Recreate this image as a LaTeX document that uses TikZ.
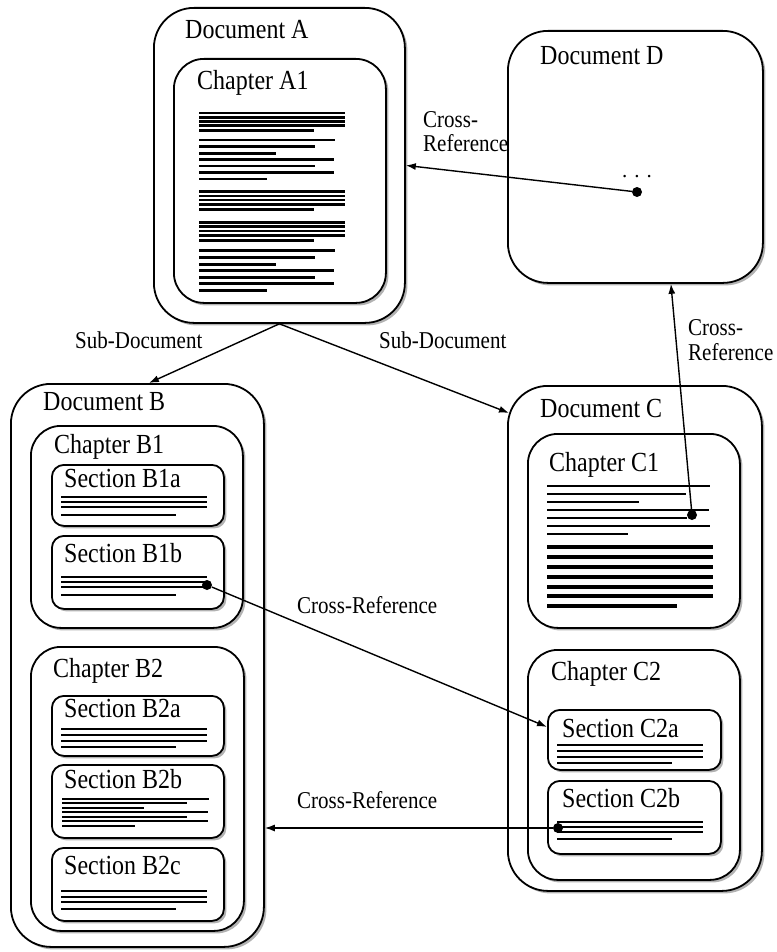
\documentclass[tikz,border=0pt]{standalone}
\usepackage{fontspec}
\usepackage{graphicx}
\setmainfont{Liberation Serif}
\usetikzlibrary{arrows.meta,shadows}

% slightly tall lettering used for every text in the figure
\newcommand{\tallt}[1]{\scalebox{1}[1.15]{#1}}

\begin{document}
\begin{tikzpicture}[x=1pt,y=-1pt,
  frame/.style={draw, line width=1.8pt, fill=white, inner sep=0pt, anchor=north west,
    drop shadow={shadow xshift=2.5pt, shadow yshift=-2.5pt, opacity=0.3, fill=black}},
  docbox/.style={frame, rounded corners=40pt},
  chapbox/.style={frame, rounded corners=30pt},
  secbox/.style={frame, rounded corners=12pt},
  title/.style={anchor=base west, inner sep=0pt, font=\fontsize{24}{28}\selectfont},
  lbl/.style={anchor=base west, inner sep=0pt, font=\fontsize{21}{25}\selectfont},
  dot/.style={circle, fill=black, inner sep=0pt, minimum size=10pt},
  conn/.style={line width=1.4pt, -{Latex[length=10pt,width=7pt]}},
  tl/.style={line width=2.8pt},
  tls/.style={line width=2.6pt},
  tlt/.style={line width=1.6pt},
  tlb/.style={line width=4.8pt}]
\useasboundingbox (0,0) rectangle (776,952);

% ---------- Document A ----------
\node[docbox, minimum width=251pt, minimum height=315pt] (docA) at (153,7) {};
\node[title] (tA) at (185,39) {\tallt{Document A}};
\node[chapbox, minimum width=212pt, minimum height=244pt] (chA1) at (173,58) {};
\node[title] (tA1) at (197,90) {\tallt{Chapter A1}};
\foreach \y/\xe in {113/345,117.5/345,121.5/345,125.5/345,130.5/314,
  140/335,146.7/315,153.3/276,159.7/334,166/315,172.3/334,179/267,
  191.7/345,196/345,200/345,204.3/345,209.7/314,
  222.7/345,226.7/345,231/345,235.3/345,240.7/314,
  250.7/335,257.7/315,264.3/276,270.7/334,277.3/315,283.7/334,290.3/267}
  \draw[tl] (199,\y) -- (\xe,\y);

% ---------- Document D ----------
\node[docbox, minimum width=255pt, minimum height=252pt] (docD) at (507,30) {};
\node[title] (tD) at (540,65) {\tallt{Document D}};
\node[lbl, anchor=base] (ellD) at (637,178) {.\,\,.\,\,.};
\node[dot] (dotD) at (637,192) {};

% ---------- Document B ----------
\node[docbox, minimum width=253pt, minimum height=563pt] (docB) at (10,383) {};
\node[title] (tB) at (43,410) {\tallt{Document B}};
\node[chapbox, minimum width=212pt, minimum height=202pt] (chB1) at (30,425) {};
\node[title] (tB1) at (54,453) {\tallt{Chapter B1}};
\node[secbox, minimum width=172pt, minimum height=61pt] (secB1a) at (51,464) {};
\node[title] (tB1a) at (64,487) {\tallt{Section B1a}};
\foreach \y/\xe in {497/207,502/207,507/207,515/176}
  \draw[tls] (61,\y) -- (\xe,\y);
\node[secbox, minimum width=172pt, minimum height=73pt] (secB1b) at (51,535) {};
\node[title] (tB1b) at (64,562) {\tallt{Section B1b}};
\foreach \y/\xe in {577/207,582/207,587/207,595/176}
  \draw[tls] (61,\y) -- (\xe,\y);
\node[dot] (dotB1b) at (207,585) {};

\node[chapbox, minimum width=213pt, minimum height=284pt] (chB2) at (30,646) {};
\node[title] (tB2) at (53,677) {\tallt{Chapter B2}};
\node[secbox, minimum width=172pt, minimum height=60pt] (secB2a) at (51,695) {};
\node[title] (tB2a) at (64,717) {\tallt{Section B2a}};
\foreach \y/\xe in {729/207,735/207,741/207,747/176}
  \draw[tls] (61,\y) -- (\xe,\y);
\node[secbox, minimum width=172pt, minimum height=73pt] (secB2b) at (51,764) {};
\node[title] (tB2b) at (64,788) {\tallt{Section B2b}};
\foreach \y/\xe in {799/209,803/187,808/144,812/208,817/187,821/208,826/135}
  \draw[tlt] (62,\y) -- (\xe,\y);
\node[secbox, minimum width=172pt, minimum height=73pt] (secB2c) at (51,847) {};
\node[title] (tB2c) at (64,874) {\tallt{Section B2c}};
\foreach \y/\xe in {891/207,897/207,902/207,909/176}
  \draw[tls] (61,\y) -- (\xe,\y);

% ---------- Document C ----------
\node[docbox, minimum width=254pt, minimum height=505pt] (docC) at (507,385) {};
\node[title] (tC) at (540,417) {\tallt{Document C}};
\node[chapbox, minimum width=212pt, minimum height=194pt] (chC1) at (527,433) {};
\node[title] (tC1) at (549,471) {\tallt{Chapter C1}};
\foreach \y/\xe in {486/710,494/686,502/639,510/709,518/687,526/710,534/628}
  \draw[tl] (547,\y) -- (\xe,\y);
\foreach \y/\xe in {547/713,557/713,567/713,577/713,587/713,596/713,606/677}
  \draw[tlb] (547,\y) -- (\xe,\y);
\node[dot] (dotC1) at (692,515) {};

\node[chapbox, minimum width=212pt, minimum height=230pt] (chC2) at (527,649) {};
\node[title] (tC2) at (551,680) {\tallt{Chapter C2}};
\node[secbox, minimum width=173pt, minimum height=60pt] (secC2a) at (547,709) {};
\node[title] (tC2a) at (562,737) {\tallt{Section C2a}};
\foreach \y/\xe in {745/703,751/703,757/703,763/672}
  \draw[tls] (557,\y) -- (\xe,\y);
\node[secbox, minimum width=173pt, minimum height=73pt] (secC2b) at (547,780) {};
\node[title] (tC2b) at (562,807) {\tallt{Section C2b}};
\foreach \y/\xe in {822/703,827/703,832/703,839/672}
  \draw[tls] (557,\y) -- (\xe,\y);
\node[dot] (dotC2b) at (558,828) {};

% ---------- connectors ----------
\draw[conn] (docA.south) -- ([xshift=11.5pt]docB.north);
\draw[conn] (docA.south) -- ([xshift=2pt,yshift=-28pt]docC.north west);
\draw[conn] (dotD) -- (docA.east);
\draw[conn] (dotC1) -- ([xshift=35.5pt]docD.south);
\draw[conn] (dotB1b) -- ([yshift=13pt]secC2a.west);
\draw[conn] (dotC2b) -- (dotC2b -| docB.east);

% ---------- connector labels ----------
\node[lbl] (subL) at (75,348) {\tallt{Sub-Document}};
\node[lbl] (subR) at (379,348) {\tallt{Sub-Document}};
\node[lbl] (crossA1) at (423,128) {\tallt{Cross-}};
\node[lbl] (crossA2) at (423,152) {\tallt{Reference}};
\node[lbl] (crossD1) at (688,335) {\tallt{Cross-}};
\node[lbl] (crossD2) at (688,360) {\tallt{Reference}};
\node[lbl] (crossB1) at (297,613) {\tallt{Cross-Reference}};
\node[lbl] (crossB2) at (297,808) {\tallt{Cross-Reference}};
\end{tikzpicture}
\end{document}
